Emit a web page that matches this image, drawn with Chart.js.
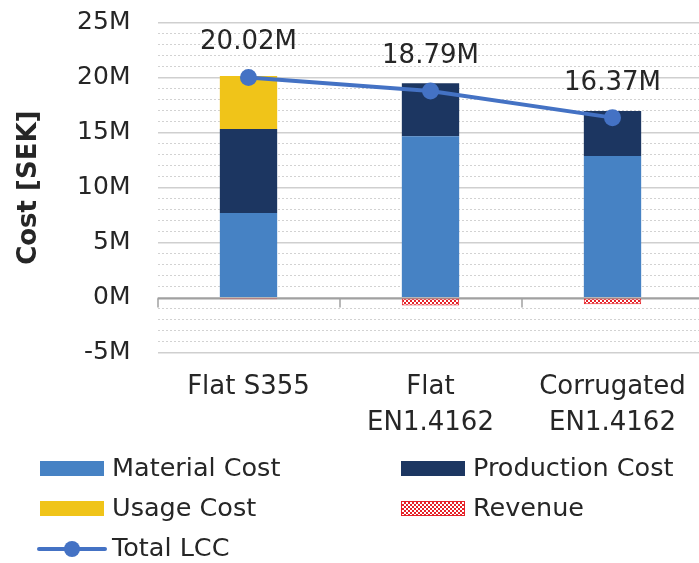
<!DOCTYPE html>
<html>
<head>
<meta charset="utf-8">
<script src="https://cdn.jsdelivr.net/npm/chart.js@4.4.0/dist/chart.umd.min.js"></script>
<style>
html, body { margin: 0; padding: 0; overflow: hidden; background: #fff; }
#wrap { position: absolute; left: 0; top: 0; width: 712px; height: 563px; }
</style>
</head>
<body>
<div id="wrap"><canvas id="lccChart" width="712" height="563"></canvas></div>
<script>
// data (millions SEK)
const categories = [['Flat S355'], ['Flat', 'EN1.4162'], ['Corrugated', 'EN1.4162']];
const materialCost = [7.70, 14.67, 12.88];
const productionCost = [7.64, 4.82, 4.09];
const usageCost = [4.81, 0, 0];
const revenue = [-0.13, -0.70, -0.60];
const totalLCC = [20.02, 18.79, 16.37];
const yTicks = [-5, 0, 5, 10, 15, 20, 25];

const FONT = "'DejaVu Sans', Verdana, sans-serif";
const TEXT = '#262626';

// checker pattern for revenue
function checkerPattern() {
    const c = document.createElement('canvas');
    c.width = 4; c.height = 4;
    const g = c.getContext('2d');
    g.fillStyle = '#e62228';
    g.fillRect(0, 0, 4, 4);
    g.fillStyle = '#ffffff';
    g.fillRect(0, 0, 2, 2);
    g.fillRect(2, 2, 2, 2);
    return g.createPattern(c, 'repeat');
}
const revPattern = checkerPattern();

// zero line with category tick marks
const zeroAxis = {
    id: 'zeroAxis',
    beforeDatasetsDraw(chart) {
        const { ctx, chartArea, scales } = chart;
        const y0 = Math.round(scales.y.getPixelForValue(0)) + 0.5;
        const n = categories.length;
        const w = (chartArea.right - chartArea.left) / n;
        ctx.save();
        ctx.strokeStyle = '#a0a0a0';
        ctx.lineWidth = 2;
        ctx.beginPath();
        ctx.moveTo(chartArea.left, y0);
        ctx.lineTo(chartArea.right, y0);
        ctx.stroke();
        ctx.lineWidth = 1.5;
        for (let k = 0; k <= n; k++) {
            const x = Math.round(chartArea.left + k * w);
            ctx.beginPath();
            ctx.moveTo(x, y0);
            ctx.lineTo(x, y0 + 9);
            ctx.stroke();
        }
        ctx.restore();
    }
};

// labels above the total points
const valueLabels = {
    id: 'valueLabels',
    afterDatasetsDraw(chart) {
        const { ctx } = chart;
        const meta = chart.getDatasetMeta(4);
        ctx.save();
        ctx.font = '26px ' + FONT;
        ctx.fillStyle = TEXT;
        ctx.textAlign = 'center';
        ctx.textBaseline = 'alphabetic';
        meta.data.forEach((pt, i) => {
            ctx.fillText(totalLCC[i].toFixed(2) + 'M', pt.x, pt.y - 28);
        });
        ctx.restore();
    }
};

// two-column legend like the original
const gridLegend = {
    id: 'gridLegend',
    afterDraw(chart) {
        const { ctx } = chart;
        const spots = [[40, 476], [401, 476], [40, 516], [401, 516], [40, 556]];
        ctx.save();
        ctx.font = '25.5px ' + FONT;
        ctx.textBaseline = 'alphabetic';
        chart.data.datasets.forEach((ds, i) => {
            const [x, b] = spots[i];
            if (ds.type === 'line') {
                ctx.strokeStyle = ds.borderColor;
                ctx.lineWidth = 4;
                ctx.lineCap = 'round';
                ctx.beginPath();
                ctx.moveTo(x - 1, b - 7);
                ctx.lineTo(x + 65, b - 7);
                ctx.stroke();
                ctx.fillStyle = ds.borderColor;
                ctx.beginPath();
                ctx.arc(x + 32, b - 7, 8, 0, Math.PI * 2);
                ctx.fill();
            } else {
                ctx.fillStyle = ds.backgroundColor;
                ctx.fillRect(x, b - 15, 64, 15);
                if (ds.borderWidth) {
                    ctx.strokeStyle = ds.borderColor;
                    ctx.lineWidth = 1;
                    ctx.strokeRect(x + 0.5, b - 14.5, 63, 14);
                }
            }
            ctx.fillStyle = TEXT;
            ctx.fillText(ds.label, x + 72, b);
        });
        ctx.restore();
    }
};

const barCommon = { stack: 'cost', order: 1, barPercentage: 0.315, categoryPercentage: 1.0, borderWidth: 0 };

new Chart(document.getElementById('lccChart'), {
    data: {
        labels: categories,
        datasets: [
            { type: 'bar', label: 'Material Cost', data: materialCost, backgroundColor: '#4682c4', ...barCommon },
            { type: 'bar', label: 'Production Cost', data: productionCost, backgroundColor: '#1c3661', ...barCommon },
            { type: 'bar', label: 'Usage Cost', data: usageCost, backgroundColor: '#f0c419', ...barCommon },
            { type: 'bar', label: 'Revenue', data: revenue, backgroundColor: revPattern, ...barCommon,
              borderWidth: 1, borderColor: '#e62228', borderSkipped: false },
            { type: 'line', label: 'Total LCC', data: totalLCC, order: 0,
              borderColor: '#4472c4', backgroundColor: '#4472c4', borderWidth: 4,
              pointRadius: 8.5, pointBorderWidth: 0, pointBackgroundColor: '#4472c4', tension: 0 }
        ]
    },
    options: {
        responsive: false,
        devicePixelRatio: 1,
        animation: false,
        events: [],
        layout: { padding: { top: 22.7, right: 6.5, left: 0, bottom: 0 } },
        plugins: { legend: { display: false }, tooltip: { enabled: false } },
        scales: {
            x: {
                stacked: true,
                offset: true,
                grid: { display: false, drawTicks: false },
                border: { display: false },
                ticks: {
                    color: TEXT,
                    font: { family: FONT, size: 26, lineHeight: 36 / 26 },
                    padding: 17,
                    maxRotation: 0,
                    autoSkip: false
                },
                afterFit: s => { s.height = 210.3; }
            },
            y: {
                stacked: true,
                min: -5,
                max: 25,
                afterFit: s => { s.width = 157.5; s.paddingTop = 0; s.paddingBottom = 0; },
                title: {
                    display: true,
                    text: 'Cost [SEK]',
                    color: TEXT,
                    font: { family: FONT, size: 26, weight: 'bold' },
                    padding: { top: 14, bottom: 0 }
                },
                grid: {
                    drawTicks: false,
                    color: c => yTicks.includes(c.tick.value) ? '#cfcfcf' : '#d2d2d2',
                    lineWidth: c => yTicks.includes(c.tick.value) ? 1.5 : 1
                },
                border: {
                    display: false,
                    dash: c => yTicks.includes(c.tick && c.tick.value) ? [] : [2, 2]
                },
                ticks: {
                    stepSize: 1,
                    autoSkip: false,
                    padding: 27,
                    color: TEXT,
                    font: { family: FONT, size: 25 },
                    callback: v => yTicks.includes(v) ? v + 'M' : ''
                }
            }
        }
    },
    plugins: [zeroAxis, valueLabels, gridLegend]
});
</script>
</body>
</html>
